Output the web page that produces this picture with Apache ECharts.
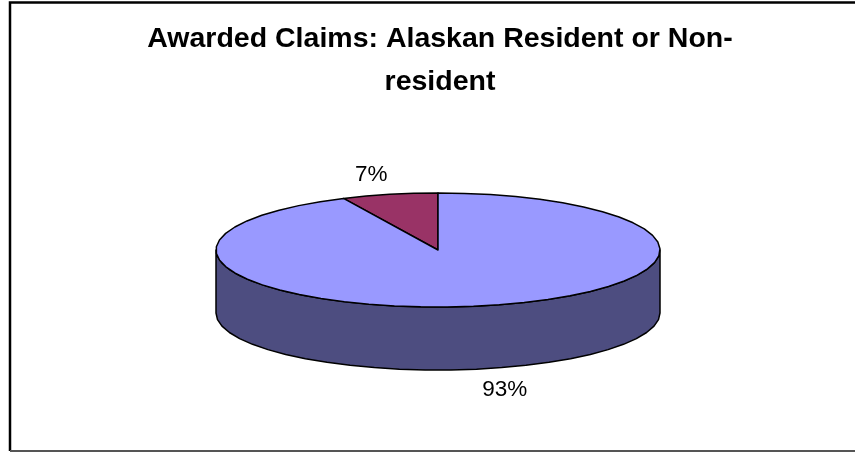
<!DOCTYPE html>
<html><head><meta charset="utf-8">
<style>html,body{margin:0;padding:0;background:#fff}#c{width:855px;height:452px}</style>
<script src="https://cdn.jsdelivr.net/npm/echarts@6/dist/echarts.min.js"></script>
</head><body><div id="c"></div>
<script>
const categories = ['Non-resident', 'Alaskan Resident'];
const values = [7, 93];
const labels = ['7%', '93%'];
const colors = ['#993366', '#9999ff'];
const wallColor = '#4d4d80';
const titleLines = ['Awarded Claims: Alaskan Resident or Non-', 'resident'];

const cx = 438, cy = 250, rx = 222, ry = 57, depth = 63;
const total = values.reduce((a, b) => a + b, 0);
// Slices run counter-clockwise from 12 o'clock, parametric angle on the ellipse
function pt(t, dy) { return [cx - rx * Math.sin(t), cy - ry * Math.cos(t) + (dy || 0)]; }
function arc(a0, a1, dy) {
  const n = Math.max(2, Math.ceil(Math.abs(a1 - a0) / 0.12)), out = [];
  for (let i = 0; i <= n; i++) out.push(pt(a0 + (a1 - a0) * i / n, dy));
  return out;
}
function renderItem(params, api) {
  const i = params.dataIndex;
  let start = 0;
  for (let k = 0; k < i; k++) start += values[k];
  const a0 = start / total * 2 * Math.PI, a1 = (start + api.value(1)) / total * 2 * Math.PI;
  const stroke = { stroke: '#000', lineWidth: 1.5, lineJoin: 'round' };
  const children = [];
  // visible wall: the front half of the rim
  const w0 = Math.max(a0, Math.PI / 2), w1 = Math.min(a1, Math.PI * 3 / 2);
  if (w1 > w0) {
    const top = arc(w0, w1, 0), bottom = arc(w1, w0, depth);
    children.push({ type: 'polygon', shape: { points: top.concat(bottom) },
      style: Object.assign({ fill: wallColor }, stroke) });
  }
  children.push({ type: 'polygon', shape: { points: [[cx, cy]].concat(arc(a0, a1, 0)) },
    style: Object.assign({ fill: colors[i] }, stroke) });
  const mid = (a0 + a1) / 2, lp = [cx - rx * 1.38 * Math.sin(mid), cy - ry * 1.35 * Math.cos(mid)];
  if (Math.cos(mid) < 0) lp[1] += depth + 2;
  children.push({ type: 'text', style: { x: lp[0], y: lp[1], text: labels[i], fill: '#000',
    font: '22.5px "Liberation Sans", Arial, sans-serif', align: 'center', verticalAlign: 'middle' } });
  return { type: 'group', children };
}
const chart = echarts.init(document.getElementById('c'), null, { renderer: 'canvas' });
chart.setOption({
  animation: false,
  backgroundColor: '#fff',
  title: { text: titleLines.join('\n'), left: 435, top: 13, textAlign: 'center',
    textStyle: { color: '#000', fontFamily: '"Liberation Sans", Arial, sans-serif', fontWeight: 'bold', fontSize: 28.5, lineHeight: 43 } },
  graphic: [{ type: 'polyline', silent: true,
    shape: { points: [[10, 451], [10, 2.5], [855, 2.5]] }, style: { stroke: '#000', lineWidth: 2.5, fill: null } },
    { type: 'line', silent: true, shape: { x1: 10, y1: 451, x2: 855, y2: 451 }, style: { stroke: '#555', lineWidth: 2 } }],
  series: [{ type: 'custom', coordinateSystem: 'none', renderItem,
    data: categories.map((c, i) => ({ name: c, value: [i, values[i]] })) }]
});
</script></body></html>
